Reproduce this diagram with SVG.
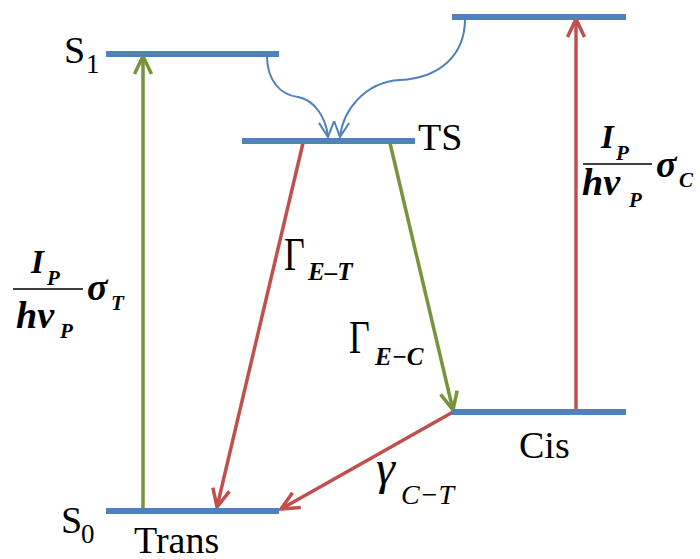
<svg xmlns="http://www.w3.org/2000/svg" width="700" height="559" viewBox="0 0 700 559">
<defs>
<style>
.lvl{stroke:#4F81BD;stroke-width:6;fill:none}
.lbl{font-family:"Liberation Serif","Times New Roman",serif;font-size:38px;fill:#000}
.sub{font-family:"Liberation Serif","Times New Roman",serif;font-size:27px;fill:#000}
.m{font-family:"Liberation Serif","Times New Roman",serif;font-style:italic;font-weight:bold;fill:#000}
.mi{font-family:"Liberation Serif","Times New Roman",serif;font-style:italic;fill:#000}
.g{font-family:"Liberation Serif","Times New Roman",serif;fill:#000}
.red{stroke:#C0504D;stroke-width:3.5;fill:none}
.grn{stroke:#77933C;stroke-width:3.5;fill:none}
.blu{stroke:#4F81BD;stroke-width:2;fill:none}
.frac{stroke:#000;stroke-width:1.6}
</style>
<marker id="ar" markerUnits="userSpaceOnUse" viewBox="-22 -12 26 24" refX="0" refY="0" markerWidth="26" markerHeight="24" orient="auto" overflow="visible">
<path d="M-18,-8.5 L0,0 L-18,8.5" fill="none" stroke="#C0504D" stroke-width="3.5"/>
</marker>
<marker id="ag" markerUnits="userSpaceOnUse" viewBox="-22 -12 26 24" refX="0" refY="0" markerWidth="26" markerHeight="24" orient="auto" overflow="visible">
<path d="M-18,-8.5 L0,0 L-18,8.5" fill="none" stroke="#77933C" stroke-width="3.5"/>
</marker>
<marker id="ab" markerUnits="userSpaceOnUse" viewBox="-16 -9 18 18" refX="0" refY="0" markerWidth="18" markerHeight="18" orient="auto" overflow="visible">
<path d="M-15,-7.5 L0,0 L-15,7.5" fill="none" stroke="#4F81BD" stroke-width="2"/>
</marker>
</defs>
<rect width="700" height="559" fill="#fff"/>

<g id="connectors">
<line class="grn" x1="143" y1="511" x2="143" y2="56" marker-end="url(#ag)"/>
<line class="red" x1="576" y1="412" x2="576" y2="19" marker-end="url(#ar)"/>
<line class="red" x1="303" y1="143" x2="217" y2="507" marker-end="url(#ar)"/>
<line class="grn" x1="390" y1="143" x2="453" y2="410" marker-end="url(#ag)"/>
<line class="red" x1="453" y1="412" x2="281" y2="509" marker-end="url(#ar)"/>
<path class="blu" d="M267,56 C267,80 280,95 298,97 C315,100 326,118 328,137" marker-end="url(#ab)"/>
<path class="blu" d="M465,19 C465,55 440,78 400,80 C365,82 343,110 340,137" marker-end="url(#ab)"/>
</g>

<g id="S1">
<line class="lvl" x1="106" y1="54" x2="279" y2="54"/>
<text class="lbl" x="64" y="63">S</text><text class="sub" x="86" y="73">1</text>
</g>
<g id="TS">
<line class="lvl" x1="242" y1="141" x2="415" y2="141"/>
<text class="lbl" x="418" y="150">TS</text>
</g>
<g id="Cis-excited">
<line class="lvl" x1="452" y1="17" x2="626" y2="17"/>
</g>
<g id="Cis">
<line class="lvl" x1="452" y1="412" x2="626" y2="412"/>
<text class="lbl" x="519" y="458">Cis</text>
</g>
<g id="S0">
<line class="lvl" x1="106" y1="511" x2="279" y2="511"/>
<text class="lbl" x="61" y="533">S</text><text class="sub" x="81" y="543">0</text>
<text class="lbl" x="134" y="553">Trans</text>
</g>

<g id="label-left">
<text class="m" x="31" y="273" font-size="33">I</text>
<text class="m" x="47" y="285" font-size="21">P</text>
<line class="frac" x1="13" y1="289" x2="83" y2="289"/>
<text class="m" x="16" y="328" font-size="38">hν</text>
<text class="m" x="60" y="338" font-size="21">P</text>
<text class="m" x="87" y="300" font-size="38">σ</text>
<text class="m" x="111" y="310" font-size="21">T</text>
</g>
<g id="label-right">
<text class="m" x="601" y="148" font-size="33">I</text>
<text class="m" x="616" y="160" font-size="21">P</text>
<line class="frac" x1="583" y1="164" x2="652" y2="164"/>
<text class="m" x="582" y="195" font-size="38">hν</text>
<text class="m" x="629" y="207" font-size="21">P</text>
<text class="m" x="656" y="177" font-size="38">σ</text>
<text class="m" x="679" y="187" font-size="21">C</text>
</g>
<g id="label-ET">
<text class="g" font-size="46" transform="translate(284,270) scale(0.78,1)">Γ</text>
<text class="m" x="308" y="280" font-size="25">E–T</text>
</g>
<g id="label-EC">
<text class="g" font-size="46" transform="translate(349,353) scale(0.78,1)">Γ</text>
<text class="m" x="375" y="365" font-size="25">E−C</text>
</g>
<g id="label-CT">
<text class="mi" x="376" y="484" font-size="48">γ</text>
<text class="mi" x="401" y="504" font-size="28">C−T</text>
</g>
</svg>
